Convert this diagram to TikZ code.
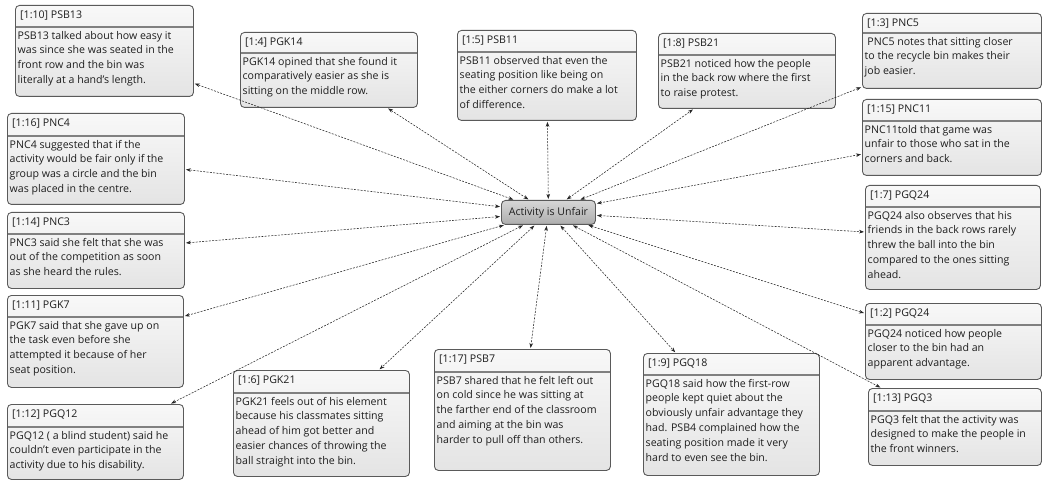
\documentclass[tikz,border=0pt]{standalone}
\usepackage{fontspec}
\setmainfont{Open Sans}
\usetikzlibrary{arrows.meta}

\definecolor{frame}{HTML}{5A5A5A}
\definecolor{boxtop}{HTML}{F8F8F8}
\definecolor{boxbot}{HTML}{E4E4E4}
\definecolor{hubtop}{HTML}{D6D6D6}
\definecolor{hubbot}{HTML}{ADADAD}
\definecolor{rulegray}{HTML}{808080}
\definecolor{ink}{HTML}{1E1E1E}

\tikzset{
  notefont/.style={font=\fontsize{10.6}{14.8}\selectfont},
  qframe/.style={draw=frame, line width=0.9pt, rounded corners=4pt,
    top color=boxtop, bottom color=boxbot, inner sep=0pt, anchor=north west},
  qtitle/.style={notefont, anchor=base west, inner sep=0pt, text=ink},
  qbody/.style={notefont, anchor=north west, inner sep=0pt, align=left,
    text=ink, execute at begin node=\strut},
  qsep/.style={draw=rulegray, line width=1.4pt},
  hub/.style={notefont, draw=frame, line width=0.9pt, rounded corners=4pt,
    top color=hubtop, bottom color=hubbot, inner sep=0pt, anchor=north west,
    text=ink},
  link/.style={draw=black!85, line width=0.55pt, dash pattern=on 2pt off 1.3pt,
    {Stealth[length=5pt,width=3.6pt]}-{Stealth[length=5pt,width=3.6pt]},
    shorten <=1pt, shorten >=1pt}
}

% #1 name, #2-#5 corners (x1,y1,x2,y2), #6 divider y, #7 title, #8 body
\newcommand\qnote[8]{%
  \node[qframe, minimum width={(#4-#2)*1pt}, minimum height={(#5-#3)*1pt}] (#1) at (#2,#3) {};
  \node[qtitle] (#1-t) at ({#2+5},{#3+13.5}) {#7};
  \draw[qsep] ({#2+0.5},#6) -- ({#4-0.5},#6);
  \node[qbody] (#1-b) at ({#2+2.5},{#6+3.8}) {#8};
}

\begin{document}
\begin{tikzpicture}[x=1pt,y=-1pt]
\useasboundingbox (0,0) rectangle (1044,481);

\node[hub, minimum width=94pt, minimum height=24pt] (hub) at (501,200) {Activity is Unfair};

\qnote{psb13}{15}{5}{193}{96}{27}{[1:10] PSB13}{PSB13 talked about how easy it\\was since she was seated in the\\front row and the bin was\\literally at a hand's length.}
\qnote{pgk14}{240}{32}{417}{107}{53}{[1:4] PGK14}{PGK14 opined that she found it\\comparatively easier as she is\\sitting on the middle row.}
\qnote{psb11}{457}{30}{636}{120}{52}{[1:5] PSB11}{PSB11 observed that even the\\seating position like being on\\the either corners do make a lot\\of difference.}
\qnote{psb21}{658}{33}{835}{108}{55}{[1:8] PSB21}{PSB21 noticed how the people\\in the back row where the first\\to raise protest.}
\qnote{pnc5}{862}{13}{1041}{88}{33}{[1:3] PNC5}{\ PNC5 notes that sitting closer\\to the recycle bin makes their\\job easier.}
\qnote{pnc11}{862}{99}{1041}{175}{121}{[1:15] PNC11}{PNC11told that game was\\unfair to those who sat in the\\corners and back.}
\qnote{pnc4}{7}{113}{184}{204}{136}{[1:16] PNC4}{PNC4 suggested that if the\\activity would be fair only if the\\group was a circle and the bin\\was placed in the centre.}
\qnote{pnc3}{7}{212}{184}{288}{234}{[1:14] PNC3}{PNC3 said she felt that she was\\out of the competition as soon\\as she heard the rules.}
\qnote{pgk7}{7}{295}{183}{387}{317}{[1:11] PGK7}{PGK7 said that she gave up on\\the task even before she\\attempted it because of her\\seat position.}
\qnote{pgq12}{7}{404}{183}{479}{427}{[1:12] PGQ12}{PGQ12 ( a blind student) said he\\couldn't even participate in the\\activity due to his disability.}
\qnote{pgk21}{233}{370}{409}{476}{393}{[1:6] PGK21}{PGK21 feels out of his element\\because his classmates sitting\\ahead of him got better and\\easier chances of throwing the\\ball straight into the bin.}
\qnote{psb7}{434}{349}{610}{470}{372}{[1:17] PSB7}{PSB7 shared that he felt left out\\on cold since he was sitting at\\the farther end of the classroom\\and aiming at the bin was\\harder to pull off than others.}
\qnote{pgq18}{643}{353}{819}{475}{375}{[1:9] PGQ18}{PGQ18 said how the first-row\\people kept quiet about the\\obviously unfair advantage they\\had. PSB4 complained how the\\seating position made it very\\hard to even see the bin.}
\qnote{pgq24a}{865}{185}{1040}{289}{207}{[1:7] PGQ24}{PGQ24 also observes that his\\friends in the back rows rarely\\threw the ball into the bin\\compared to the ones sitting\\ahead.}
\qnote{pgq24b}{865}{303}{1041}{379}{325}{[1:2] PGQ24}{PGQ24 noticed how people\\closer to the bin had an\\apparent advantage.}
\qnote{pgq3}{868}{388}{1041}{465}{411}{[1:13] PGQ3}{PGQ3 felt that the activity was\\designed to make the people in\\the front winners.}

\foreach \n in {psb13,pgk14,psb11,psb21,pnc5,pnc11,pnc4,pnc3,pgk7,pgq12,pgk21,psb7,pgq18,pgq24a,pgq24b,pgq3}
  \draw[link] (hub) -- (\n);
\end{tikzpicture}
\end{document}
